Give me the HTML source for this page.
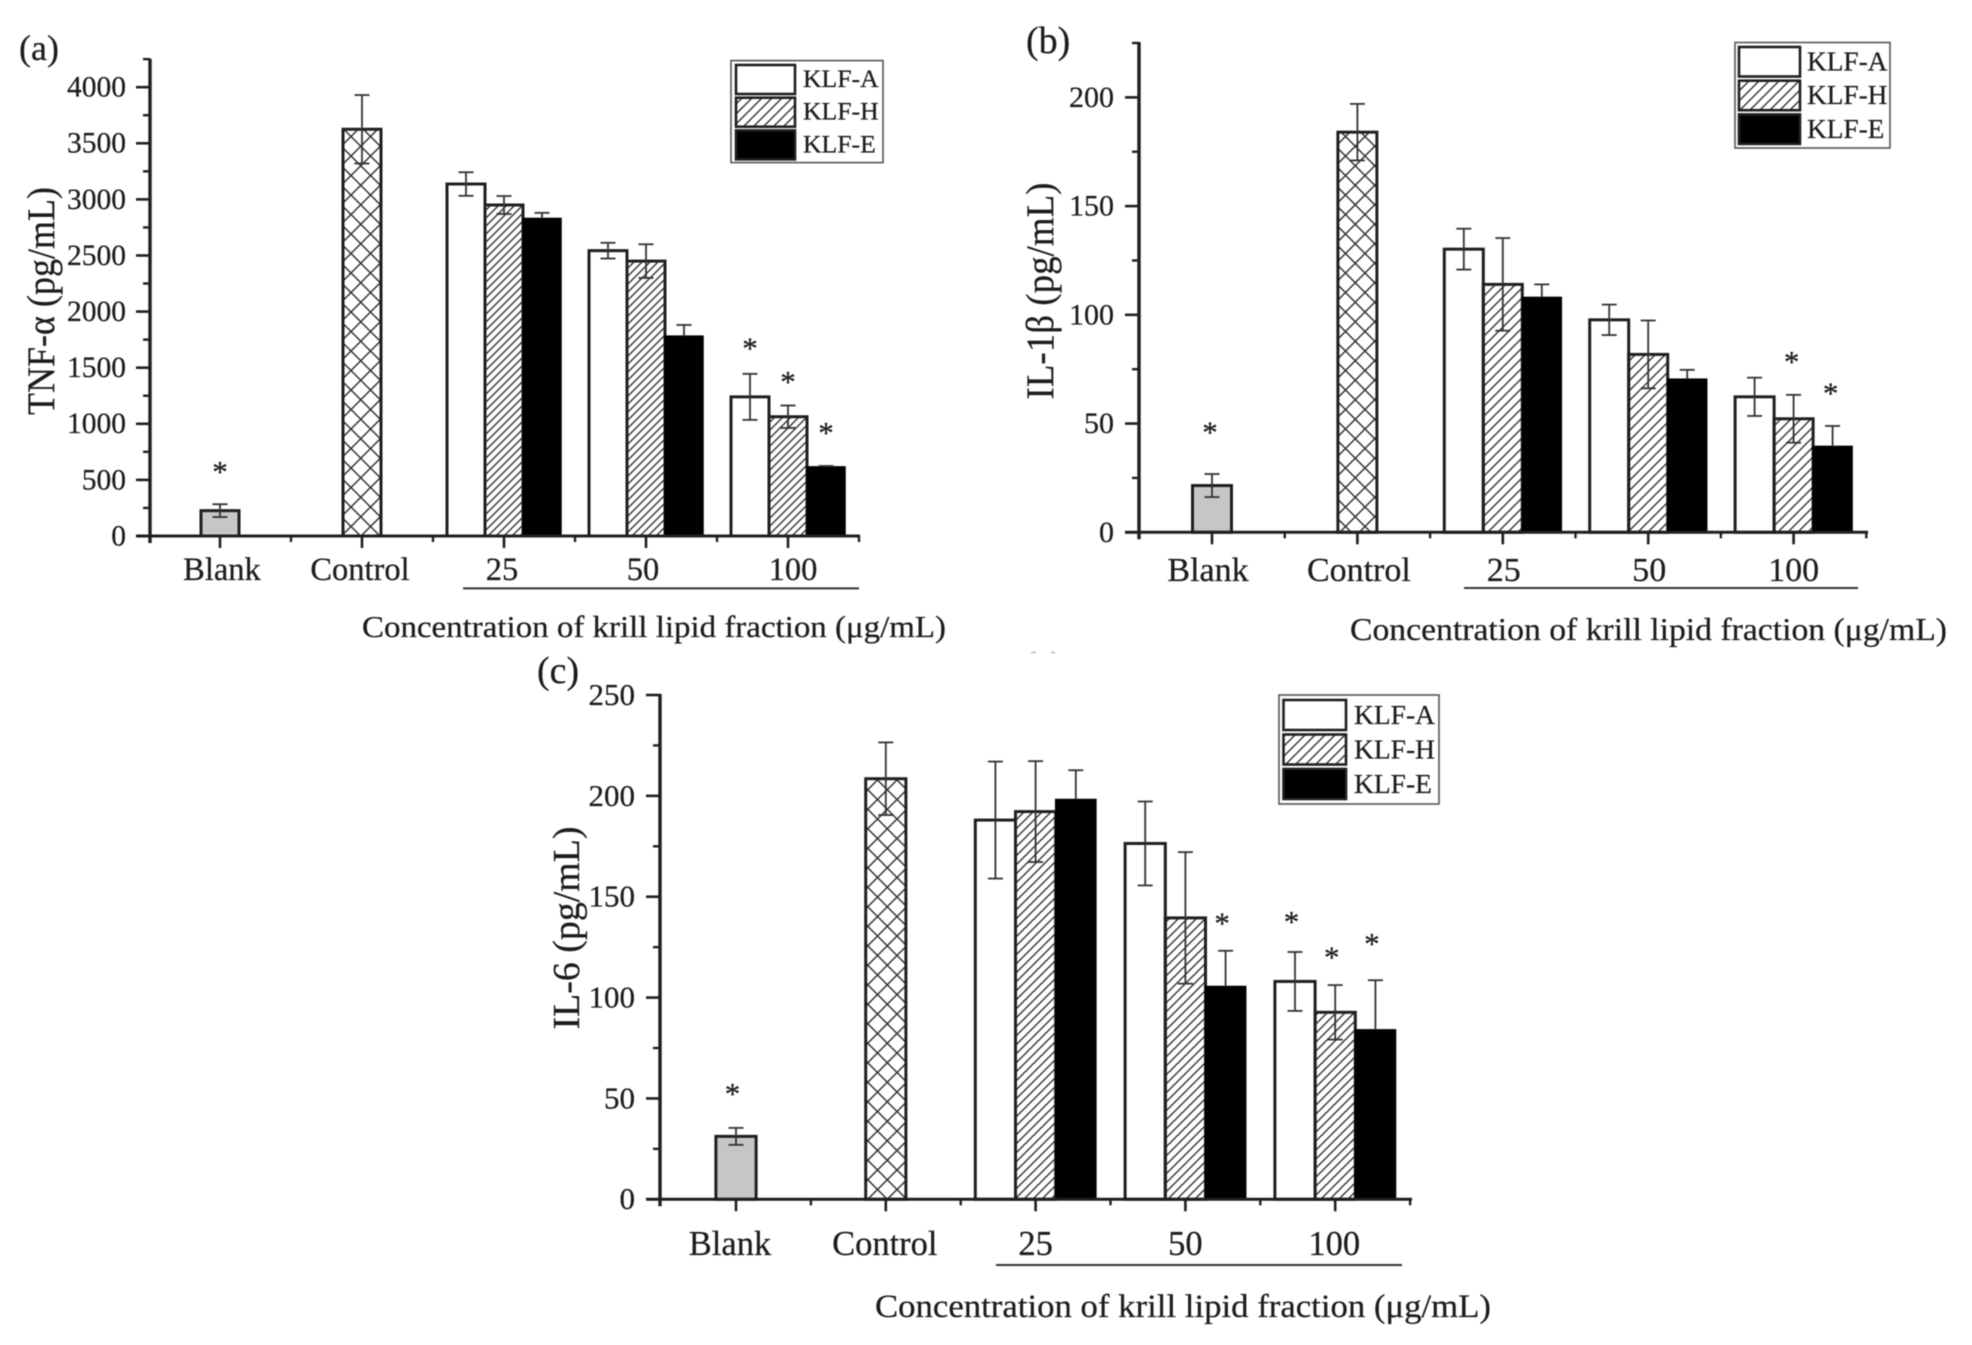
<!DOCTYPE html>
<html lang="en">
<head>
<meta charset="utf-8">
<title>Krill lipid fraction cytokine charts</title>
<style>
html,body{margin:0;padding:0;background:#fff;}
svg{display:block;filter:blur(0.6px);}
text{font-family:"Liberation Serif",serif;fill:#1c1c1c;stroke:#1c1c1c;stroke-width:0.25px;}
</style>
</head>
<body>
<svg id="figure" xmlns="http://www.w3.org/2000/svg" width="1972" height="1345" viewBox="0 0 1972 1345">
  <defs>
    <pattern id="hatch-a" width="8" height="8" patternUnits="userSpaceOnUse"><path d="M-1,9 L9,-1 M-1,1 L1,-1 M7,9 L9,7" stroke="#333" stroke-width="1.4" fill="none"/></pattern>
    <pattern id="hatch-b" width="10" height="10" patternUnits="userSpaceOnUse"><path d="M-1,11 L11,-1 M-1,1 L1,-1 M9,11 L11,9" stroke="#333" stroke-width="1.4" fill="none"/></pattern>
    <pattern id="hatch-c" width="9" height="9" patternUnits="userSpaceOnUse"><path d="M-1,10 L10,-1 M-1,1 L1,-1 M8,10 L10,8" stroke="#333" stroke-width="1.4" fill="none"/></pattern>
    <pattern id="cross" width="19.5" height="19.5" patternUnits="userSpaceOnUse"><path d="M0,0 L19.5,19.5 M19.5,0 L0,19.5" stroke="#333" stroke-width="1.5" fill="none"/></pattern>
  </defs>
  <rect x="0" y="0" width="1972" height="1345" fill="#fff"/>
  <g>
    <line x1="1031" x2="1036" y1="653" y2="652" stroke="#bbb" stroke-width="1.5"/>
    <line x1="1051" x2="1055" y1="652" y2="653" stroke="#bbb" stroke-width="1.5"/>
  </g>
  <g id="panel-a">
    <text x="19" y="60" font-size="36">(a)</text>
    <text transform="rotate(-90 54 301)" x="54" y="301" text-anchor="middle" font-size="39" textLength="228" lengthAdjust="spacingAndGlyphs">TNF-α (pg/mL)</text>
    <text x="362" y="637" font-size="31" textLength="584" lengthAdjust="spacingAndGlyphs">Concentration of krill lipid fraction (μg/mL)</text>
    <line x1="463" x2="859" y1="588.4" y2="588.4" stroke="#333" stroke-width="2"/>
  </g>
  <g id="panel-b">
    <text x="1026" y="53" font-size="38">(b)</text>
    <text transform="rotate(-90 1053 291)" x="1053" y="291" text-anchor="middle" font-size="39" textLength="217" lengthAdjust="spacingAndGlyphs">IL-1β (pg/mL)</text>
    <text x="1350" y="640" font-size="32" textLength="597" lengthAdjust="spacingAndGlyphs">Concentration of krill lipid fraction (μg/mL)</text>
    <line x1="1464" x2="1858" y1="588" y2="588" stroke="#333" stroke-width="2"/>
  </g>
  <g id="panel-c">
    <text x="537" y="683" font-size="38">(c)</text>
    <text transform="rotate(-90 579 928)" x="579" y="928" text-anchor="middle" font-size="38" textLength="203" lengthAdjust="spacingAndGlyphs">IL-6 (pg/mL)</text>
    <text x="875" y="1317" font-size="33" textLength="616" lengthAdjust="spacingAndGlyphs">Concentration of krill lipid fraction (μg/mL)</text>
    <line x1="996" x2="1402" y1="1265" y2="1265" stroke="#333" stroke-width="2"/>
  </g>
</svg>
<script>
// ---------- shared categories ----------
const categories = ['Blank', 'Control', '25', '50', '100'];
const seriesNames = ['KLF-A', 'KLF-H', 'KLF-E'];

// ---------- panel (a) TNF-alpha ----------
const aTicks = [0, 500, 1000, 1500, 2000, 2500, 3000, 3500, 4000];
const aMinorTicks = [250, 750, 1250, 1750, 2250, 2750, 3250, 3750, 4250];
const aReference = [226, 3625];
const aReferenceErr = [57, 305];
const aKlfA = [3137, 2543, 1240];
const aKlfAErr = [105, 70, 205];
const aKlfH = [2950, 2450, 1063];
const aKlfHErr = [80, 150, 100];
const aKlfE = [2830, 1781, 616];
const aKlfEErr = [50, 100, 8];
const aStarRef = [588, null];
const aStarA = [null, null, 1689];
const aStarH = [null, null, 1390];
const aStarE = [null, null, 936];

// ---------- panel (b) IL-1beta ----------
const bTicks = [0, 50, 100, 150, 200];
const bMinorTicks = [25, 75, 125, 175, 225];
const bReference = [21.5, 184];
const bReferenceErr = [5.3, 13];
const bKlfA = [130.2, 97.7, 62.3];
const bKlfAErr = [9.4, 7, 8.8];
const bKlfH = [114, 81.8, 52.2];
const bKlfHErr = [21.3, 15.6, 11];
const bKlfE = [108, 70.4, 39.5];
const bKlfEErr = [6, 4.3, 9.4];
const bStarRef = [46.8, null];
const bStarA = [null, null, null];
const bStarH = [null, null, 79.2];
const bStarE = [null, null, 64.8];

// ---------- panel (c) IL-6 ----------
const cTicks = [0, 50, 100, 150, 200, 250];
const cMinorTicks = [25, 75, 125, 175, 225];
const cReference = [31.2, 208.5];
const cReferenceErr = [4.2, 18];
const cKlfA = [188, 176.4, 108];
const cKlfAErr = [29, 20.8, 14.6];
const cKlfH = [192.2, 139.5, 92.7];
const cKlfHErr = [25, 32.6, 13.5];
const cKlfE = [198.2, 105.5, 84];
const cKlfEErr = [14.5, 17.7, 24.6];
const cStarRef = [53.2, null];
const cStarA = [null, null, 138.5];
const cStarH = [null, null, 120.8];
const cStarE = [null, 137.7, 127.6];

const SVGNS = 'http://www.w3.org/2000/svg';
function mk(tag, parent, props) {
  const el = document.createElementNS(SVGNS, tag);
  for (const k in props) el.setAttribute(k, props[k]);
  parent.appendChild(el);
  return el;
}

function drawPanel(p) {
  const root = document.getElementById(p.id);
  const yPos = v => p.y0 - v * (p.y0 - p.yTop) / p.yMax;
  const xPos = i => p.x0 + i * p.step;
  const ink = '#1f1f1f';

  // bars and error bars
  const barGroup = mk('g', root, {});
  
  

  function bar(cx, value, err, fill, star) {
    const top = yPos(value);
    const solid = fill === '#000';
    const b = mk('rect', barGroup, {x: cx - p.barW / 2, y: top, width: p.barW, height: p.y0 - top, fill: fill, stroke: solid ? '#000' : ink, 'stroke-width': solid ? 1.5 : 3});
    
    
    // on a solid black bar the lower half of the whisker is invisible (black on black)
    const whiskerLow = solid ? value : value - err;
    const stem = mk('line', barGroup, {x1: cx, x2: cx, y1: yPos(value + err), y2: yPos(whiskerLow), stroke: '#333', 'stroke-width': 1.8});
    
    
    const capTop = mk('line', barGroup, {x1: cx - p.cap, x2: cx + p.cap, y1: yPos(value + err), y2: yPos(value + err), stroke: '#333', 'stroke-width': 1.8});
    
    
    if (!solid) {
      const capBot = mk('line', barGroup, {x1: cx - p.cap, x2: cx + p.cap, y1: yPos(value - err), y2: yPos(value - err), stroke: '#333', 'stroke-width': 1.8});
      
      
    }
    if (star !== null) {
      const s = mk('text', barGroup, {x: cx + p.starDx, y: yPos(star) + 12, 'text-anchor': 'middle', 'font-size': 31});
      
      
      s.textContent = '*';
    }
  }

  p.reference.forEach((v, i) => {
    bar(xPos(i), v, p.referenceErr[i], i === 0 ? '#c6c6c6' : 'url(#cross)', p.starRef[i]);
  });
  const fills = ['#fff', 'url(#' + p.hatch + ')', '#000'];
  p.series.forEach((vals, s) => {
    vals.forEach((v, g) => {
      bar(xPos(g + 2) + (s - 1) * p.barW, v, p.errs[s][g], fills[s], p.stars[s][g]);
    });
  });

  // axes
  const axes = mk('g', root, {});
  
  
  const yAxis = mk('line', axes, {x1: p.xAxisLeft, x2: p.xAxisLeft, y1: p.yTop - 1, y2: p.y0 + 7, stroke: ink, 'stroke-width': 3.4});
  
  
  const xAxis = mk('line', axes, {x1: p.xAxisLeft - 14, x2: p.xAxisRight, y1: p.y0, y2: p.y0, stroke: ink, 'stroke-width': 3});
  
  

  p.ticks.forEach(v => {
    const t = mk('line', axes, {x1: p.xAxisLeft - 14, x2: p.xAxisLeft, y1: yPos(v), y2: yPos(v), stroke: ink, 'stroke-width': 2.6});
    
    
    const l = mk('text', axes, {x: p.tickLabelX, y: yPos(v) + p.tickFont * 0.32, 'text-anchor': 'end', 'font-size': p.tickFont});
    
    
    l.textContent = v;
  });
  p.minorTicks.forEach(v => {
    const t = mk('line', axes, {x1: p.xAxisLeft - 7, x2: p.xAxisLeft, y1: yPos(v), y2: yPos(v), stroke: ink, 'stroke-width': 2.4});
    
    
  });
  categories.forEach((c, i) => {
    const t = mk('line', axes, {x1: xPos(i), x2: xPos(i), y1: p.y0, y2: p.y0 + 12, stroke: ink, 'stroke-width': 2.6});
    
    
    const m = mk('line', axes, {x1: xPos(i) + p.step / 2, x2: xPos(i) + p.step / 2, y1: p.y0, y2: p.y0 + 6, stroke: ink, 'stroke-width': 2.4});
    
    
    const l = mk('text', axes, {x: xPos(i) + p.labelDx[i], y: p.catBaseline, 'text-anchor': 'middle', 'font-size': p.catFont});
    
    
    l.textContent = c;
  });

  // legend
  const L = p.legend;
  const lg = mk('g', root, {});
  
  
  const box = mk('rect', lg, {x: L.x, y: L.y, width: L.w, height: L.h, fill: '#fff', stroke: '#555', 'stroke-width': 1.6});
  
  
  seriesNames.forEach((n, i) => {
    const sw = mk('rect', lg, {x: L.sx, y: L.sy + i * L.rowStep, width: L.sw, height: L.sh, fill: i === 1 ? 'url(#hatch-b)' : fills[i], stroke: ink, 'stroke-width': 2.6});
    
    
    const t = mk('text', lg, {x: L.tx, y: L.tb + i * L.rowStep, 'font-size': L.fs});
    
    
    t.textContent = n;
  });
}

drawPanel({
  id: 'panel-a', y0: 536, yTop: 59.8, yMax: 4244, x0: 220, step: 142, barW: 38, cap: 7.5, starDx: 0,
  xAxisLeft: 150, xAxisRight: 860, tickLabelX: 126, tickFont: 29.5, catFont: 32.5, catBaseline: 580,
  labelDx: [2, -2, -2, -3, 5], hatch: 'hatch-a',
  ticks: aTicks, minorTicks: aMinorTicks, reference: aReference, referenceErr: aReferenceErr, starRef: aStarRef,
  series: [aKlfA, aKlfH, aKlfE], errs: [aKlfAErr, aKlfHErr, aKlfEErr], stars: [aStarA, aStarH, aStarE],
  legend: {x: 731, y: 60.6, w: 152, h: 102, sx: 736, sw: 59, sy: 65, sh: 29, rowStep: 32.7, tx: 803, tb: 87, fs: 25.7}
});
drawPanel({
  id: 'panel-b', y0: 532.3, yTop: 43, yMax: 225, x0: 1212, step: 145.4, barW: 39, cap: 7.5, starDx: -2,
  xAxisLeft: 1139, xAxisRight: 1868, tickLabelX: 1114, tickFont: 30, catFont: 34, catBaseline: 581,
  labelDx: [-4, 1.5, 1, 1, 0], hatch: 'hatch-b',
  ticks: bTicks, minorTicks: bMinorTicks, reference: bReference, referenceErr: bReferenceErr, starRef: bStarRef,
  series: [bKlfA, bKlfH, bKlfE], errs: [bKlfAErr, bKlfHErr, bKlfEErr], stars: [bStarA, bStarH, bStarE],
  legend: {x: 1735, y: 42.5, w: 155, h: 105.5, sx: 1739, sw: 61, sy: 47, sh: 29.5, rowStep: 33.7, tx: 1807, tb: 70.5, fs: 27.3}
});
drawPanel({
  id: 'panel-c', y0: 1199.3, yTop: 695, yMax: 250, x0: 736, step: 149.8, barW: 40.2, cap: 7.5, starDx: -3.5,
  xAxisLeft: 660, xAxisRight: 1412, tickLabelX: 635, tickFont: 31, catFont: 34.5, catBaseline: 1255,
  labelDx: [-6, -1, 0, 0, -1], hatch: 'hatch-c',
  ticks: cTicks, minorTicks: cMinorTicks, reference: cReference, referenceErr: cReferenceErr, starRef: cStarRef,
  series: [cKlfA, cKlfH, cKlfE], errs: [cKlfAErr, cKlfHErr, cKlfEErr], stars: [cStarA, cStarH, cStarE],
  legend: {x: 1279, y: 695, w: 160, h: 109, sx: 1283.5, sw: 62.5, sy: 700, sh: 30, rowStep: 34.5, tx: 1354, tb: 724, fs: 27.5}
});
</script>
</body>
</html>
